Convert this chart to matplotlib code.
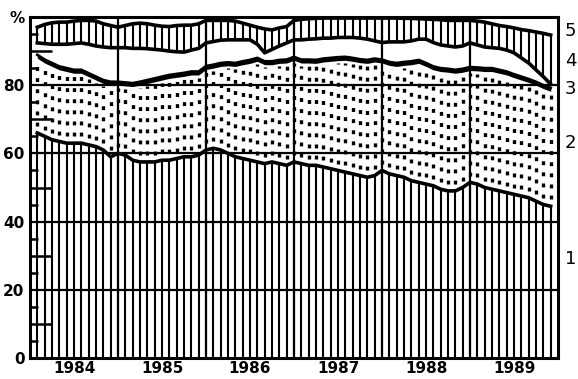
import numpy as np
import pandas as pd
import matplotlib
matplotlib.use("Agg")
import matplotlib.pyplot as plt


# =========================
# Data (monthly shares, %)
# =========================

months = pd.date_range("1984-02-01", periods=71, freq="MS")

share_1 = [
    66, 65, 64, 63.5, 63, 63, 63, 62.5, 62, 61, 59,
    60, 59.5, 58, 57.5, 57.5, 57.5, 58, 58, 58.5, 59, 59, 59.5,
    61, 61.5, 61, 60, 59, 58.5, 58, 57.5, 57, 57.5, 57, 56.5,
    57.5, 57, 56.5, 56.5, 56, 55.5, 55, 54.5, 54, 53.5, 53, 53.5,
    55, 54, 53.5, 53, 52, 51.5, 51, 50.5, 49.5, 49, 49, 50,
    51.5, 51, 50, 49.5, 49, 48.5, 48, 47.5, 47, 46, 45, 44.5,
]

share_2 = [
    21.9, 21.5, 21.5, 21.0, 21.0, 20.5, 20.5, 20.0, 19.5, 19.5, 21.0,
    20.0, 20.3, 21.6, 22.5, 23.0, 23.5, 23.5, 24.0, 23.8, 23.6, 24.0, 23.5,
    23.6, 23.5, 24.5, 25.7, 26.5, 27.5, 28.4, 29.5, 29.0, 28.5, 29.4, 30.0,
    29.8, 29.5, 30.0, 29.9, 30.8, 31.5, 32.2, 32.8, 33.0, 33.1, 33.4, 33.3,
    31.5, 31.8, 32.0, 32.8, 34.0, 34.9, 34.5, 34.0, 34.5, 34.8, 34.5, 33.8,
    32.8, 33.2, 34.0, 34.5, 34.5, 34.5, 34.2, 34.0, 33.8, 34.0, 34.0, 33.7,
]

share_3 = [
    1.0, 1.0, 1.0, 1.0, 1.0, 1.0, 1.0, 1.0, 1.0, 1.0, 1.0,
    1.0, 1.0, 1.0, 1.0, 1.0, 1.0, 1.0, 1.0, 1.0, 1.0, 1.0, 1.0,
    1.0, 1.0, 1.0, 1.0, 1.0, 1.0, 1.0, 1.0, 1.0, 1.0, 1.0, 1.0,
    1.0, 1.0, 1.0, 1.0, 1.0, 1.0, 1.0, 1.0, 1.0, 1.0, 1.0, 1.0,
    1.0, 1.0, 1.0, 1.0, 1.0, 1.0, 1.0, 1.0, 1.0, 1.0, 1.0, 1.0,
    1.0, 1.0, 1.0, 1.0, 1.0, 1.0, 1.0, 1.0, 1.0, 1.0, 1.0, 1.0,
]

share_4 = [
    3.5, 4.7, 5.5, 6.5, 7.0, 7.7, 7.9, 8.5, 9.0, 9.7, 10.0,
    10.0, 10.2, 10.2, 9.8, 9.2, 8.5, 7.8, 7.0, 6.5, 6.1, 6.3, 6.8,
    6.8, 6.8, 6.7, 6.6, 6.8, 6.3, 5.9, 4.0, 2.5, 3.5, 4.1, 4.9,
    5.0, 5.8, 6.0, 6.2, 6.0, 5.8, 5.8, 5.7, 6.0, 6.2, 6.1, 5.2,
    5.0, 5.9, 6.2, 5.9, 6.0, 6.1, 7.0, 7.0, 6.8, 6.7, 6.7, 6.7,
    7.1, 6.6, 6.2, 6.0, 6.3, 6.3, 6.3, 5.5, 4.7, 3.5, 2.5, 1.1,
]

share_5 = [
    4.6, 5.6, 6.3, 6.5, 6.5, 6.6, 6.6, 7.0, 7.3, 6.8, 6.5,
    6.0, 6.5, 7.2, 7.4, 7.3, 7.1, 7.0, 7.2, 7.7, 7.9, 7.3, 7.2,
    6.6, 6.2, 5.8, 5.7, 5.5, 4.9, 4.3, 5.0, 7.0, 5.7, 5.3, 4.8,
    5.7, 6.0, 6.0, 6.0, 5.9, 5.9, 5.7, 5.7, 5.7, 5.9, 6.2, 6.7,
    7.2, 7.0, 7.0, 6.9, 6.6, 6.0, 5.9, 6.8, 7.4, 7.5, 7.8, 7.5,
    6.6, 7.0, 7.3, 7.0, 6.7, 6.9, 7.3, 8.3, 9.5, 11.1, 12.7, 14.4,
]

years = [1984, 1985, 1986, 1987, 1988, 1989]
y_ticks = [0, 20, 40, 60, 80, 100]
y_labels = ["0", "20", "40", "60", "80", "%"]
layer_names = ["1", "2", "3", "4", "5"]


# =========================
# Prepare
# =========================

plt.rcParams["font.family"] = ["DejaVu Sans"]
plt.rcParams["lines.scale_dashes"] = False

x = months.year + (months.month - 1) / 12.0

cum = np.cumsum(
    np.vstack([share_1, share_2, share_3, share_4, share_5]),
    axis=0
)
c1, c2, c3, c4, c5 = cum


# =========================
# Figure
# =========================

fig = plt.figure(figsize=(5.78, 3.79), dpi=100)
ax = fig.add_axes([30 / 578, 21 / 379, 528 / 578, 341 / 379])

ax.set_xlim(1984, 1990)
ax.set_ylim(0, 100)

# layer 1: vertical monthly lines
ax.vlines(x, 0, c1, color="k", lw=1.5)
ax.plot(x, c1, color="k", lw=2.6)

# layer 2: dotted columns
ax.vlines(x, c1 + 2.0, c2 - 0.8, color="k", lw=2.4,
          linestyles=[(0, (2.8, 5.2))])

# layer 3: thin black band
ax.fill_between(x, c2, c3, color="k", lw=0)
ax.plot(x, c3, color="k", lw=2.0)

# layer 4: white band, only the border
ax.plot(x, c4, color="k", lw=2.6)

# layer 5: vertical monthly lines
ax.vlines(x, c4, c5, color="k", lw=1.5)
ax.plot(x, c5, color="k", lw=2.6)

# grid
for v in y_ticks[1:-1]:
    ax.axhline(v, color="k", lw=1.6)

for yr in years[1:]:
    ax.axvline(yr, color="k", lw=1.6)

# ticks
ax.set_yticks(y_ticks)
ax.set_yticklabels(y_labels, fontsize=11, fontweight="bold")
ax.tick_params(axis="y", length=0, pad=4)

ax.set_yticks([5, 15, 25, 35, 45, 55, 65, 75, 85, 95], minor=True)
ax.tick_params(axis="y", which="minor", direction="in",
               length=6, width=1.8)

ax.hlines([10, 30, 50, 70, 90], 0, 0.042, color="k", lw=1.8,
          transform=ax.get_yaxis_transform())

ax.set_xticks([yr + 0.5 for yr in years])
ax.set_xticklabels([str(yr) for yr in years],
                   fontsize=11, fontweight="bold")
ax.tick_params(axis="x", length=0, pad=2)

for s in ax.spines.values():
    s.set_linewidth(2.2)

# layer labels on the right
label_y = [29, 63, 79, 87, 96]
for name, yy in zip(layer_names, label_y):
    ax.text(1.013, yy, name, transform=ax.get_yaxis_transform(),
            fontsize=13, va="center", ha="left")

fig.savefig("out.png", dpi=100)
